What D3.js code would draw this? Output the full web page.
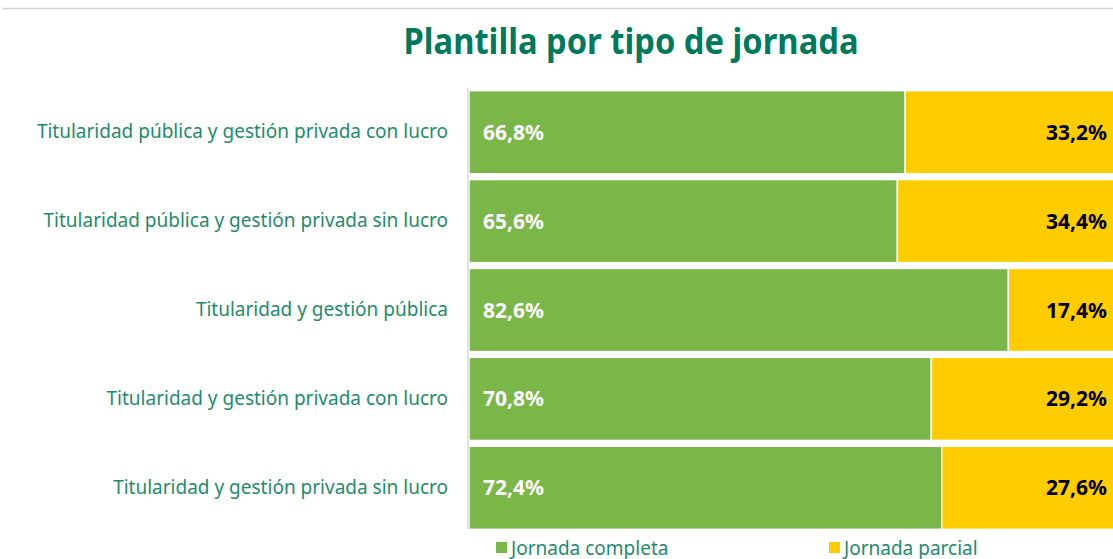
<!DOCTYPE html>
<html>
<head>
<meta charset="utf-8">
<script src="https://cdn.jsdelivr.net/npm/d3@7/dist/d3.min.js"></script>
<style>
  html, body { margin: 0; padding: 0; background: #fff; overflow: hidden; }
  text { font-family: "Noto Sans", "Open Sans", sans-serif; }
</style>
</head>
<body>
<div id="chart"></div>
<script>
var categories = [
    "Titularidad pública y gestión privada con lucro",
    "Titularidad pública y gestión privada sin lucro",
    "Titularidad y gestión pública",
    "Titularidad y gestión privada con lucro",
    "Titularidad y gestión privada sin lucro"
];
var completa = [66.8, 65.6, 82.6, 70.8, 72.4];
var parcial = [33.2, 34.4, 17.4, 29.2, 27.6];
var seriesNames = ["Jornada completa", "Jornada parcial"];
var colors = ["#7ab648", "#ffcc00"];

var w = 1113,
    h = 559,
    mLeft = 469,
    mRight = 1122,
    mTop = 88,
    mBottom = 532;

var svg = d3.select("#chart").append("svg")
    .attr("width", w)
    .attr("height", h);

// thin frame line at the top
svg.append("line")
    .attr("x1", 3).attr("x2", w)
    .attr("y1", 8.5).attr("y2", 8.5)
    .attr("style", "stroke:#d0d0d0;stroke-width:1.5");

svg.append("text")
    .attr("x", 631)
    .attr("y", 54)
    .attr("text-anchor", "middle")
    .attr("textLength", 455)
    .attr("lengthAdjust", "spacingAndGlyphs")
    .attr("style", "font-size:35px;font-weight:bold;fill:#00795c")
    .text("Plantilla por tipo de jornada");

var x = d3.scaleLinear().domain([0, 100]).range([mLeft, mRight]);
var y = d3.scaleBand().domain(categories).range([mTop, mBottom]).paddingInner(0.065).paddingOuter(0.03);

var rows = categories.map(function (c, i) {
    return { cat: c, a: completa[i], b: parcial[i] };
});

var g = svg.append("g");

g.selectAll("rect.a").data(rows).enter()
    .append("rect")
    .attr("class", "a")
    .attr("x", x(0))
    .attr("y", function (d) { return y(d.cat); })
    .attr("width", function (d) { return x(d.a) - x(0); })
    .attr("height", y.bandwidth())
    .attr("style", "fill:" + colors[0] + ";stroke:#fff;stroke-width:1.5");

g.selectAll("rect.b").data(rows).enter()
    .append("rect")
    .attr("class", "b")
    .attr("x", function (d) { return x(d.a); })
    .attr("y", function (d) { return y(d.cat); })
    .attr("width", function (d) { return x(d.a + d.b) - x(d.a); })
    .attr("height", y.bandwidth())
    .attr("style", "fill:" + colors[1] + ";stroke:#fff;stroke-width:1.5");

var fmt = function (v) { return v.toFixed(1).replace(".", ",") + "%"; };

g.selectAll("text.la").data(rows).enter()
    .append("text")
    .attr("class", "la")
    .attr("x", x(0) + 14)
    .attr("y", function (d) { return y(d.cat) + y.bandwidth() / 2; })
    .attr("dy", "0.36em")
    .attr("style", "font-size:21px;font-weight:bold;fill:#fff")
    .text(function (d) { return fmt(d.a); });

g.selectAll("text.lb").data(rows).enter()
    .append("text")
    .attr("class", "lb")
    .attr("x", 1107)
    .attr("y", function (d) { return y(d.cat) + y.bandwidth() / 2; })
    .attr("dy", "0.36em")
    .attr("text-anchor", "end")
    .attr("style", "font-size:21px;font-weight:bold;fill:#000")
    .text(function (d) { return fmt(d.b); });

// category axis
var yAxis = svg.append("g")
    .attr("transform", "translate(" + (mLeft - 1) + ",0)")
    .call(d3.axisLeft(y).tickSize(0).tickPadding(20));
yAxis.select(".domain").attr("stroke", "#d9d9d9").attr("stroke-width", 1.5)
    .attr("d", "M0," + mTop + "V" + (mBottom - 3));
yAxis.selectAll(".tick text")
    .attr("style", "font-size:19px;fill:#1e8c6c;font-family:'Noto Sans',sans-serif");

// legend
var legend = svg.append("g").selectAll("g").data(seriesNames).enter()
    .append("g")
    .attr("transform", function (d, i) { return "translate(" + (496 + i * 333) + ",0)"; });
legend.append("rect")
    .attr("x", 0).attr("y", 542)
    .attr("width", 11).attr("height", 11)
    .attr("fill", function (d, i) { return colors[i]; });
legend.append("text")
    .attr("x", 15).attr("y", 555)
    .attr("style", "font-size:19px;fill:#1e8c6c")
    .text(function (d) { return d; });
</script>
</body>
</html>
